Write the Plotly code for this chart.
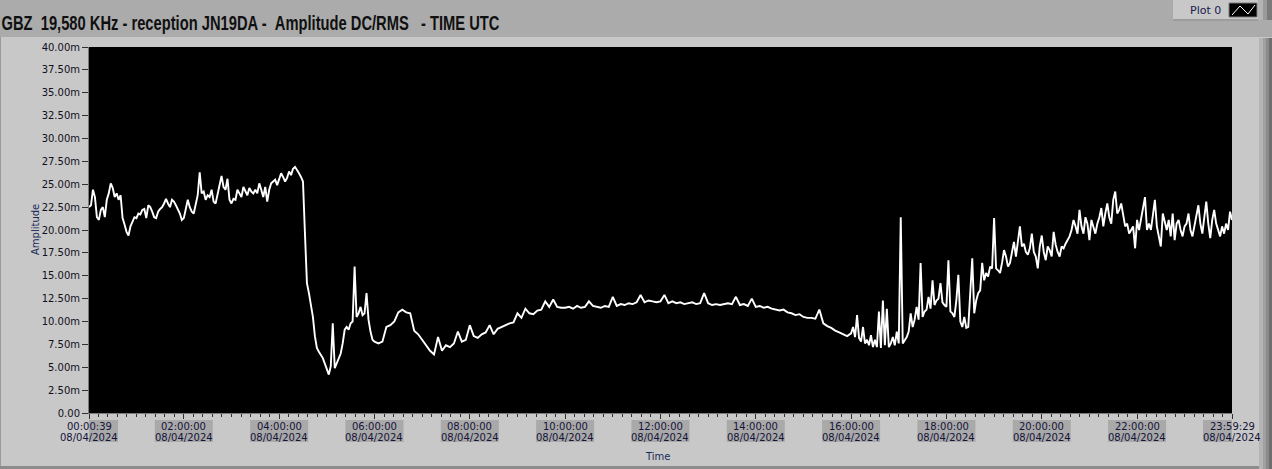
import pandas as pd
import plotly.graph_objects as go

# ---------------- data (amplitude in milli-units), one list per 2-hour block ----------------
amp_00_02 = [22.5, 22.7, 24.4, 23.6, 21.4, 21.1, 22.2, 22.5, 21.4, 23.3, 24.0, 25.1,
             24.6, 23.6, 24.0, 23.3, 23.8, 21.3, 20.6, 19.8, 19.4, 20.4, 20.9, 21.4,
             21.3, 21.8, 21.7, 22.2, 22.3, 21.3, 22.7, 22.5, 22.0, 21.4, 21.3, 22.0,
             22.3, 22.5, 22.9, 23.4, 22.9, 22.5, 23.3, 23.1, 22.7, 22.3, 21.8, 21.1]
amp_02_04 = [21.3, 22.3, 23.3, 22.5, 22.0, 21.8, 22.9, 23.8, 26.3, 24.0, 24.2, 23.3,
             23.8, 23.6, 24.4, 23.1, 22.9, 24.0, 24.9, 25.9, 24.7, 24.4, 25.6, 23.3,
             22.9, 23.4, 23.3, 24.4, 24.0, 23.6, 24.7, 24.2, 23.8, 24.6, 24.2, 24.0,
             24.4, 24.0, 25.1, 24.4, 23.6, 24.7, 23.1, 24.4, 25.1, 25.3, 25.5, 24.9]
amp_04_06 = [25.7, 26.2, 25.8, 25.3, 25.7, 26.4, 26.0, 26.7, 26.9, 26.6, 26.2, 25.8,
             25.3, 19.6, 14.2, 13.1, 11.6, 10.5, 8.4, 7.1, 6.7, 6.4, 6.0, 5.4,
             4.7, 4.2, 5.1, 9.8, 4.9, 5.4, 6.1, 6.5, 7.6, 9.1, 9.4, 9.1,
             9.8, 10.0, 16.0, 10.5, 10.9, 11.6, 10.7, 10.9, 13.1, 10.2, 8.9, 8.0]
amp_06_08 = [7.8, 7.6, 7.8, 9.4, 9.6, 10.0, 11.0, 11.3, 11.0, 10.9, 9.0, 8.6,
             8.0, 7.4, 6.8, 6.4, 8.3, 6.8, 7.4, 7.2, 7.6, 8.9, 7.8, 8.0]
amp_08_10 = [9.6, 8.4, 8.2, 8.6, 8.8, 9.6, 8.6, 9.2, 9.4, 9.6, 9.8, 9.9,
             10.9, 10.4, 11.4, 10.9, 10.8, 11.2, 11.3, 12.2, 11.6, 12.4, 11.6, 11.5]
amp_10_12 = [11.5, 11.6, 11.4, 11.7, 11.5, 11.6, 12.2, 11.7, 11.6, 11.5, 11.7, 11.6,
             12.7, 11.7, 11.9, 11.8, 12.0, 11.9, 12.1, 12.9, 12.1, 12.3, 12.2, 12.1]
amp_12_14 = [12.2, 12.9, 12.0, 12.2, 12.0, 12.1, 11.9, 12.0, 12.1, 11.9, 12.0, 13.1,
             12.0, 11.8, 11.9, 11.8, 11.9, 12.0, 11.9, 12.7, 11.8, 11.9, 11.7, 12.5]
amp_14_16 = [11.6, 11.7, 11.5, 11.6, 11.4, 11.3, 11.2, 11.3, 11.0, 10.9, 10.7, 10.8,
             10.5, 10.4, 10.4, 10.3, 11.3, 9.8, 9.5, 9.3, 9.0, 8.8, 8.6, 8.4]
amp_16_18 = [8.7, 9.4, 8.3, 10.7, 8.2, 7.8, 9.4, 7.6, 8.0, 7.4, 8.5, 7.2,
             8.0, 7.2, 11.1, 7.1, 12.3, 7.4, 11.4, 7.2, 7.6, 8.3, 7.4, 8.9,
             7.6, 21.4, 7.6, 8.0, 8.3, 8.9, 10.9, 9.4, 10.2, 11.6, 10.2, 16.4,
             10.5, 11.1, 11.3, 12.7, 11.4, 14.5, 11.8, 12.3, 12.5, 14.2, 12.1, 11.8]
amp_18_20 = [11.6, 16.7, 11.1, 10.9, 10.5, 12.3, 15.1, 10.0, 9.4, 10.5, 9.3, 9.4,
             13.4, 16.9, 10.9, 12.3, 13.1, 13.4, 16.4, 14.5, 15.3, 14.9, 16.0, 15.8,
             21.3, 15.8, 15.6, 15.3, 16.4, 17.8, 17.1, 16.0, 16.4, 17.5, 18.7, 17.1,
             18.9, 20.4, 18.2, 18.5, 17.6, 17.3, 18.0, 19.6, 17.6, 17.1, 15.8, 18.2]
amp_20_22 = [19.4, 17.6, 16.7, 18.2, 17.8, 17.1, 19.8, 18.4, 17.6, 17.1, 18.2, 18.0,
             18.5, 18.9, 19.3, 20.0, 21.1, 20.4, 19.6, 22.2, 20.4, 19.6, 21.4, 20.7,
             18.9, 21.1, 20.4, 19.6, 20.7, 21.4, 22.4, 20.4, 21.8, 22.9, 21.4, 20.7,
             23.3, 24.2, 21.8, 22.2, 22.9, 21.4, 20.4, 20.7, 19.6, 20.0, 20.4, 18.0]
amp_22_24 = [21.1, 20.0, 21.1, 22.2, 23.6, 20.0, 20.7, 20.0, 21.4, 23.3, 20.4, 19.3,
             18.2, 21.8, 20.7, 20.0, 21.1, 19.3, 21.8, 18.9, 20.7, 21.1, 20.0, 19.3,
             20.4, 20.7, 21.8, 20.0, 19.3, 20.4, 21.4, 22.7, 20.7, 19.6, 21.4, 23.1,
             20.7, 19.1, 21.1, 22.2, 20.7, 20.0, 19.3, 20.4, 19.6, 20.7, 20.0, 22.0, 21.1]

blocks = [amp_00_02, amp_02_04, amp_04_06, amp_06_08, amp_08_10, amp_10_12,
          amp_12_14, amp_14_16, amp_16_18, amp_18_20, amp_20_22, amp_22_24]
block_starts = ["2024-04-08 00:00:39", "2024-04-08 02:00:00", "2024-04-08 04:00:00",
                "2024-04-08 06:00:00", "2024-04-08 08:00:00", "2024-04-08 10:00:00",
                "2024-04-08 12:00:00", "2024-04-08 14:00:00", "2024-04-08 16:00:00",
                "2024-04-08 18:00:00", "2024-04-08 20:00:00", "2024-04-08 22:00:00",
                "2024-04-08 23:59:29"]

t_start = "2024-04-08 00:00:39"
t_end = "2024-04-08 23:59:29"

times, amplitude = [], []
for k, vals in enumerate(blocks):
    last = k == len(blocks) - 1
    n = len(vals) if last else len(vals) + 1
    ts = pd.date_range(block_starts[k], block_starts[k + 1], periods=n)
    ts = ts if last else ts[:-1]
    times.extend(ts)
    amplitude.extend(vals)

x_tick_times = ["2024-04-08 00:00:39", "2024-04-08 02:00:00", "2024-04-08 04:00:00",
                "2024-04-08 06:00:00", "2024-04-08 08:00:00", "2024-04-08 10:00:00",
                "2024-04-08 12:00:00", "2024-04-08 14:00:00", "2024-04-08 16:00:00",
                "2024-04-08 18:00:00", "2024-04-08 20:00:00", "2024-04-08 22:00:00",
                "2024-04-08 23:59:29"]
x_tick_clock = ["00:00:39", "02:00:00", "04:00:00", "06:00:00", "08:00:00", "10:00:00",
                "12:00:00", "14:00:00", "16:00:00", "18:00:00", "20:00:00", "22:00:00",
                "23:59:29"]
x_tick_date = "08/04/2024"

y_tick_vals = [0, 2.5, 5, 7.5, 10, 12.5, 15, 17.5, 20, 22.5, 25, 27.5, 30, 32.5, 35, 37.5, 40]
y_tick_text = ["0.00", "2.50m", "5.00m", "7.50m", "10.00m", "12.50m", "15.00m", "17.50m",
               "20.00m", "22.50m", "25.00m", "27.50m", "30.00m", "32.50m", "35.00m",
               "37.50m", "40.00m"]

title_text = "GBZ\u00a0\u00a019,580 KHz - reception JN19DA -\u00a0\u00a0Amplitude DC/RMS\u00a0\u00a0\u00a0- TIME UTC"

# ---------------- layout geometry ----------------
W, H = 1272, 469
L, R, T, B = 89, 40, 47, 56
PW, PH = W - L - R, H - T - B


def px(x):
    return (x - L) / PW


def py(y):
    return (H - B - y) / PH


TXT = "#14143a"
FONT = "DejaVu Sans"

fig = go.Figure()
fig.add_trace(go.Scatter(x=times, y=amplitude, mode="lines",
                         line=dict(color="white", width=1.9),
                         name="Plot 0", showlegend=False, hoverinfo="skip"))

shapes = []


def rect(x0, y0, x1, y1, color, line=None):
    shapes.append(dict(type="rect", xref="paper", yref="paper",
                       x0=px(x0), x1=px(x1), y0=py(y1), y1=py(y0),
                       fillcolor=color, layer="below",
                       line=dict(width=1 if line else 0, color=line or color)))


# window chrome
rect(0, 0, W, 37, "#ababab")
rect(1259, 38, 1263, H, "#b4b4b4")
rect(1263, 38, 1266, H, "#a0a0a0")
rect(1266, 38, 1269, H, "#8a8a8a")
rect(1269, 38, W, H, "#6e6e6e")
rect(1258, 0, 1263, 20, "#b4b4b4")
rect(1263, 0, 1267, 20, "#9a9a9a")
rect(1267, 0, W, 20, "#7a7a7a")
rect(0, 466, 1259, H, "#8c8c8c")
rect(0, 37, 1, 466, "#9a9a9a")
# legend panel
rect(1173, 0, 1258, 20, "#c8c8c8")
rect(1173, 19, 1258, 21, "#9c9c9c")
rect(1229, 3, 1257, 17, "#000000", line="#7a7a7a")
shapes.append(dict(type="path", xref="paper", yref="paper",
                   path="M {} {} L {} {} L {} {} L {} {}".format(
                       px(1232), py(15), px(1240), py(6), px(1248), py(14), px(1255), py(5)),
                   line=dict(color="white", width=1), layer="above"))

# tick label boxes
for t in x_tick_times:
    shapes.append(dict(type="rect", xref="x", yref="paper",
                       xsizemode="pixel", xanchor=t, x0=-29, x1=29,
                       ysizemode="pixel", yanchor=0, y0=-29, y1=-7,
                       fillcolor="#a9a9a9", line=dict(width=0), layer="below"))

annotations = []
for t, c in zip(x_tick_times, x_tick_clock):
    annotations.append(dict(x=t, y=0, xref="x", yref="paper", text=c, showarrow=False,
                            yanchor="middle", yshift=-13, font=dict(family=FONT, size=10, color=TXT)))
    annotations.append(dict(x=t, y=0, xref="x", yref="paper", text=x_tick_date, showarrow=False,
                            yanchor="middle", yshift=-24, font=dict(family=FONT, size=10, color=TXT)))

# title: centred at x=250 px, squeezed to the original condensed width by the post script
annotations.append(dict(x=px(250), y=py(22), xref="paper", yref="paper", text=title_text,
                        showarrow=False, xanchor="center", yanchor="middle",
                        font=dict(family="Liberation Sans", size=21, weight=700, color="#101010")))
annotations.append(dict(x=px(35), y=py(230), xref="paper", yref="paper", text="Amplitude",
                        textangle=-90, showarrow=False, xanchor="center", yanchor="middle",
                        font=dict(family=FONT, size=10, color="#1a2a5a")))
annotations.append(dict(x=px(657), y=py(456), xref="paper", yref="paper", text="Time",
                        showarrow=False, xanchor="center", yanchor="middle",
                        font=dict(family=FONT, size=10, color="#1a2a5a")))
annotations.append(dict(x=px(1205), y=py(10), xref="paper", yref="paper", text="Plot 0",
                        showarrow=False, xanchor="center", yanchor="middle",
                        font=dict(family=FONT, size=11, color="#1a1a50")))

fig.update_layout(
    width=W, height=H,
    margin=dict(l=L, r=R, t=T, b=B, pad=0),
    paper_bgcolor="#c8c8c8",
    plot_bgcolor="#000000",
    showlegend=False,
    hovermode=False,
    shapes=shapes,
    annotations=annotations,
    xaxis=dict(type="date", range=[t_start, t_end], showgrid=False, zeroline=False,
               showticklabels=False, tickmode="array", tickvals=x_tick_times,
               ticks="outside", ticklen=5, tickcolor="#303030", tickwidth=1,
               showline=True, linecolor="#7a7a7a", linewidth=1,
               minor=dict(tickmode="linear", tick0="2024-04-08 00:00:00", dtick=720000,
                          ticks="outside", ticklen=3, tickcolor="#303030", showgrid=False)),
    yaxis=dict(range=[0, 40], showgrid=False, zeroline=False,
               tickmode="array", tickvals=y_tick_vals, ticktext=y_tick_text,
               ticks="outside", ticklen=6, tickcolor="#303030", tickwidth=1,
               showline=True, linecolor="#7a7a7a", linewidth=1,
               tickfont=dict(family=FONT, size=10, color="#101020")),
)

post = """
document.documentElement.style.margin='0';
document.body.style.margin='0';
document.body.style.padding='0';
document.querySelectorAll('text.annotation-text').forEach(function(t){
  if (t.textContent.indexOf('GBZ') === 0) {
    t.setAttribute('textLength', '498');
    t.setAttribute('lengthAdjust', 'spacingAndGlyphs');
  }
});
"""

fig.write_html("out.html", post_script=post, config={"displayModeBar": False, "staticPlot": True})
